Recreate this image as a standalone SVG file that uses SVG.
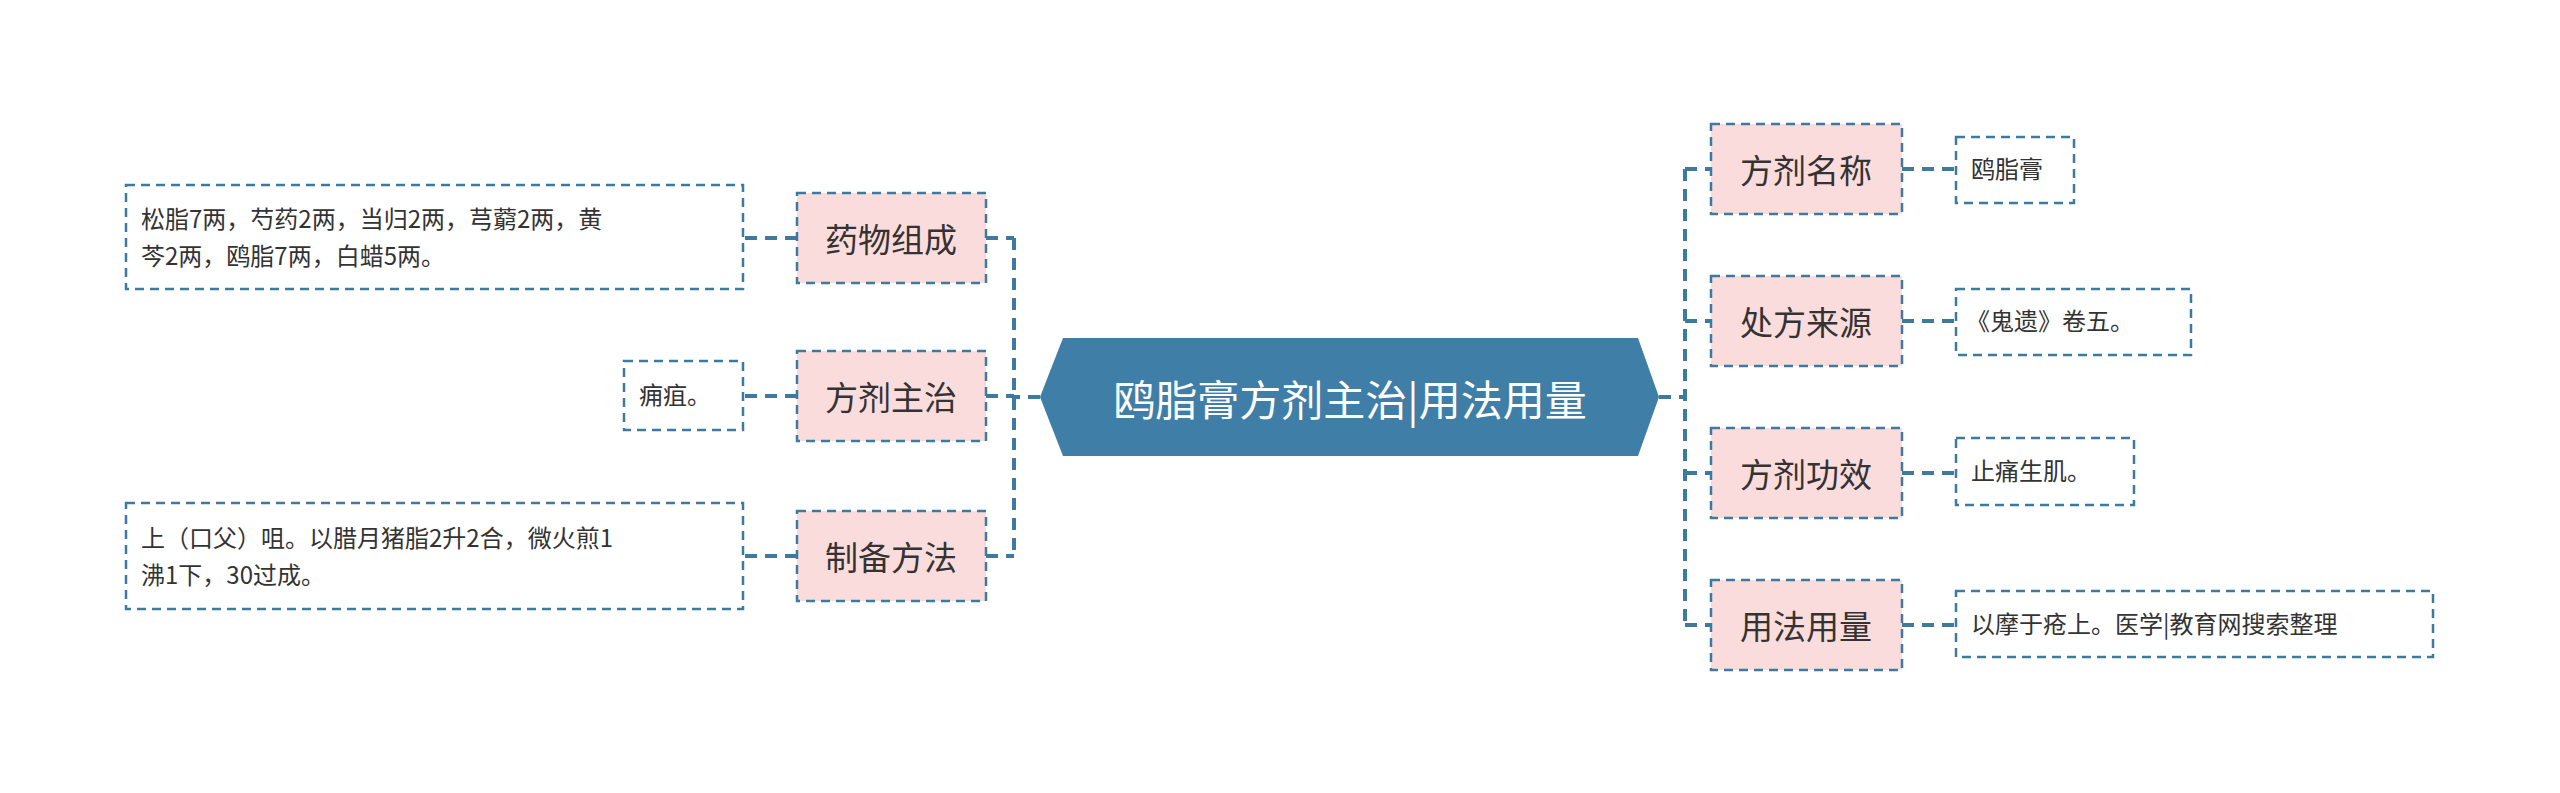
<svg xmlns="http://www.w3.org/2000/svg" width="2560" height="793" viewBox="0 0 2560 793">
<style>
text{font-family:"Noto Sans CJK SC","Liberation Sans",sans-serif;fill:#333}
.n rect{fill:#fbdcdc;stroke:#3d7a9e;stroke-width:2.5;stroke-dasharray:9 6}
.n text{font-size:33px;text-anchor:middle;dominant-baseline:central}
.l rect{fill:#fff;stroke:#3d7a9e;stroke-width:2.5;stroke-dasharray:9 6}
.l text{font-size:24px}
.c path{fill:none;stroke:#3d7a9e;stroke-width:4;stroke-dasharray:12 8}
</style>
<rect width="2560" height="793" fill="#fff"/>
<g id="connectors" class="c">
<path d="M1040 397H1014M1014 238V556M986 238H1014M986 396H1014M986 556H1014"/>
<path d="M1659 397H1685M1685 169V625M1685 169H1711M1685 321H1711M1685 473H1711M1685 625H1711"/>
<path d="M797 238H743M797 396H743M797 556H743"/>
<path d="M1902 169H1956M1902 321H1956M1902 473H1956M1902 625H1956"/>
</g>
<g id="center"><path d="M1063 338H1638L1659 397L1638 456H1063L1040 397Z" fill="#3f7ea6"/>
<text x="1350" y="397" font-size="42" text-anchor="middle" dominant-baseline="central" style="fill:#fff">鸥脂膏方剂主治|用法用量</text></g>
<g id="n1" class="n"><rect x="797" y="193" width="189" height="90"/><text x="891" y="238">药物组成</text></g>
<g id="n2" class="n"><rect x="797" y="351" width="189" height="90"/><text x="891" y="396">方剂主治</text></g>
<g id="n3" class="n"><rect x="797" y="511" width="189" height="90"/><text x="891" y="556">制备方法</text></g>
<g id="n4" class="n"><rect x="1711" y="124" width="191" height="90"/><text x="1806" y="169">方剂名称</text></g>
<g id="n5" class="n"><rect x="1711" y="276" width="191" height="90"/><text x="1806" y="321">处方来源</text></g>
<g id="n6" class="n"><rect x="1711" y="428" width="191" height="90"/><text x="1806" y="473">方剂功效</text></g>
<g id="n7" class="n"><rect x="1711" y="580" width="191" height="90"/><text x="1806" y="625">用法用量</text></g>
<g id="l1" class="l"><rect x="126" y="185" width="617" height="104"/><text x="141" y="228">松脂7两，芍药2两，当归2两，芎藭2两，黄</text><text x="141" y="265">芩2两，鸥脂7两，白蜡5两。</text></g>
<g id="l2" class="l"><rect x="624" y="361" width="119" height="69"/><text x="639" y="404">痈疽。</text></g>
<g id="l3" class="l"><rect x="126" y="503" width="617" height="106"/><text x="141" y="547">上（口父）咀。以腊月猪脂2升2合，微火煎1</text><text x="141" y="584">沸1下，30过成。</text></g>
<g id="l4" class="l"><rect x="1956" y="137" width="118" height="66"/><text x="1971" y="178">鸥脂膏</text></g>
<g id="l5" class="l"><rect x="1956" y="289" width="235" height="66"/><text x="1966" y="330">《鬼遗》卷五。</text></g>
<g id="l6" class="l"><rect x="1956" y="438" width="178" height="67"/><text x="1971" y="480">止痛生肌。</text></g>
<g id="l7" class="l"><rect x="1956" y="591" width="477" height="66"/><text x="1971" y="633">以摩于疮上。医学|教育网搜索整理</text></g>
</svg>
